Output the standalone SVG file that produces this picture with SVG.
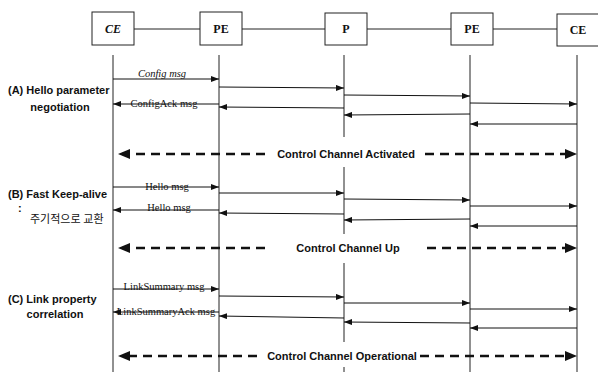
<svg xmlns="http://www.w3.org/2000/svg" width="598" height="372" viewBox="0 0 598 372">
<defs>
<marker id="ah" markerWidth="8" markerHeight="6" refX="8" refY="3" orient="auto" markerUnits="userSpaceOnUse"><path d="M0,0 L8,3 L0,6 Z" fill="#111"/></marker>
<marker id="bh" markerWidth="12" markerHeight="10" refX="11" refY="5" orient="auto" markerUnits="userSpaceOnUse"><path d="M0,0 L12,5 L0,10 Z" fill="#111"/></marker>
</defs>
<style>
.box{fill:#fff;stroke:#222;stroke-width:1}
.lnk{stroke:#222;stroke-width:1}
.life{stroke:#222;stroke-width:1}
.msg{stroke:#111;stroke-width:1;fill:none;marker-end:url(#ah)}
.dash{stroke:#111;stroke-width:2.5;stroke-dasharray:9 6;fill:none}
.bl{font-family:"Liberation Serif",serif;font-weight:bold;font-size:12px;text-anchor:middle;fill:#111}
.ml{font-family:"Liberation Serif",serif;font-size:10.5px;text-anchor:middle;fill:#111}
.lab{font-family:"Liberation Sans",Arial,sans-serif;font-weight:bold;font-size:11px;fill:#111}
.ko{font-family:"Liberation Serif","Noto Sans CJK KR",serif;font-size:11px;fill:#111}
</style>
<rect width="598" height="372" fill="#fff"/>
<g id="links">
<line class="lnk" x1="134" y1="29" x2="200" y2="29"/>
<line class="lnk" x1="242" y1="29" x2="325" y2="29"/>
<line class="lnk" x1="367" y1="29" x2="451" y2="29"/>
<line class="lnk" x1="493" y1="29" x2="557" y2="29"/>
</g>
<g id="node-ce1"><rect class="box" x="92" y="12" width="42" height="33"/><text class="bl" x="113" y="33" font-style="italic">CE</text></g>
<g id="node-pe1"><rect class="box" x="200" y="12" width="42" height="33"/><text class="bl" x="221" y="33">PE</text></g>
<g id="node-p"><rect class="box" x="325" y="13" width="42" height="32"/><text class="bl" x="346" y="33">P</text></g>
<g id="node-pe2"><rect class="box" x="451" y="13" width="42" height="32"/><text class="bl" x="472" y="33">PE</text></g>
<g id="node-ce2"><rect class="box" x="557" y="14" width="45" height="32"/><text class="bl" x="578" y="34">CE</text></g>
<g id="lifelines">
<line class="life" x1="113" y1="55" x2="113" y2="372"/>
<line class="life" x1="219" y1="55" x2="219" y2="372"/>
<line class="life" x1="344" y1="55" x2="344" y2="137"/>
<line class="life" x1="344" y1="167" x2="344" y2="234"/>
<line class="life" x1="344" y1="263" x2="344" y2="342"/>
<line class="life" x1="344" y1="367" x2="344" y2="372"/>
<line class="life" x1="470" y1="55" x2="470" y2="372"/>
<line class="life" x1="577" y1="55" x2="577" y2="372"/>
</g>
<g id="connectors">
<line class="msg" x1="113" y1="79" x2="219" y2="79"/>
<line class="msg" x1="219" y1="87" x2="344" y2="88"/>
<line class="msg" x1="344" y1="95" x2="470" y2="96"/>
<line class="msg" x1="470" y1="103" x2="577" y2="104"/>
<line class="msg" x1="577" y1="124" x2="470" y2="124"/>
<line class="msg" x1="470" y1="114" x2="344" y2="115"/>
<line class="msg" x1="344" y1="108" x2="219" y2="107"/>
<line class="msg" x1="219" y1="104" x2="113" y2="104"/>
<line class="dash" x1="265" y1="154" x2="122" y2="154"/>
<path d="M118,154 L130,149 L130,159 Z" fill="#111"/>
<line class="dash" x1="425" y1="154" x2="566" y2="154"/>
<path d="M577,154 L565,149 L565,159 Z" fill="#111"/>
<line class="msg" x1="113" y1="187" x2="219" y2="187"/>
<line class="msg" x1="219" y1="193" x2="344" y2="193"/>
<line class="msg" x1="344" y1="199" x2="470" y2="200"/>
<line class="msg" x1="470" y1="206" x2="577" y2="206"/>
<line class="msg" x1="577" y1="226" x2="470" y2="226"/>
<line class="msg" x1="470" y1="219" x2="344" y2="220"/>
<line class="msg" x1="344" y1="214" x2="219" y2="213"/>
<line class="msg" x1="219" y1="210" x2="113" y2="210"/>
<line class="dash" x1="265" y1="248" x2="122" y2="248"/>
<path d="M118,248 L130,243 L130,253 Z" fill="#111"/>
<line class="dash" x1="427" y1="248" x2="566" y2="248"/>
<path d="M577,248 L565,243 L565,253 Z" fill="#111"/>
<line class="msg" x1="113" y1="289" x2="219" y2="289"/>
<line class="msg" x1="219" y1="296" x2="344" y2="297"/>
<line class="msg" x1="344" y1="303" x2="470" y2="303"/>
<line class="msg" x1="470" y1="309" x2="577" y2="309"/>
<line class="msg" x1="577" y1="328" x2="470" y2="328"/>
<line class="msg" x1="470" y1="323" x2="344" y2="322"/>
<line class="msg" x1="344" y1="318" x2="219" y2="316"/>
<line class="msg" x1="219" y1="312" x2="113" y2="312"/>
<line class="dash" x1="257" y1="356" x2="122" y2="356"/>
<path d="M118,356 L130,351 L130,361 Z" fill="#111"/>
<line class="dash" x1="420" y1="356" x2="566" y2="356"/>
<path d="M577,356 L565,351 L565,361 Z" fill="#111"/>
</g>
<g id="msg-labels">
<text class="ml" x="162" y="77" font-style="italic">Config msg</text>
<text class="ml" x="164" y="107">ConfigAck msg</text>
<text class="ml" x="167" y="190">Hello msg</text>
<text class="ml" x="169" y="211">Hello msg</text>
<text class="ml" x="164" y="290">LinkSummary msg</text>
<text class="ml" x="166" y="315">LinkSummaryAck msg</text>
</g>
<g id="channel-labels">
<text class="lab" x="346" y="158" text-anchor="middle">Control Channel Activated</text>
<text class="lab" x="348" y="252" text-anchor="middle">Control Channel Up</text>
<text class="lab" x="342" y="360" text-anchor="middle">Control Channel Operational</text>
</g>
<g id="phase-labels">
<text class="lab" x="8" y="94">(A) Hello parameter</text>
<text class="lab" x="60" y="111" text-anchor="middle">negotiation</text>
<text class="lab" x="8" y="198">(B) Fast Keep-alive</text>
<text class="lab" x="18" y="212">:</text>
<text class="ko" x="30" y="223">주기적으로 교환</text>
<text class="lab" x="8" y="303">(C) Link property</text>
<text class="lab" x="55" y="318" text-anchor="middle">correlation</text>
</g>
</svg>
